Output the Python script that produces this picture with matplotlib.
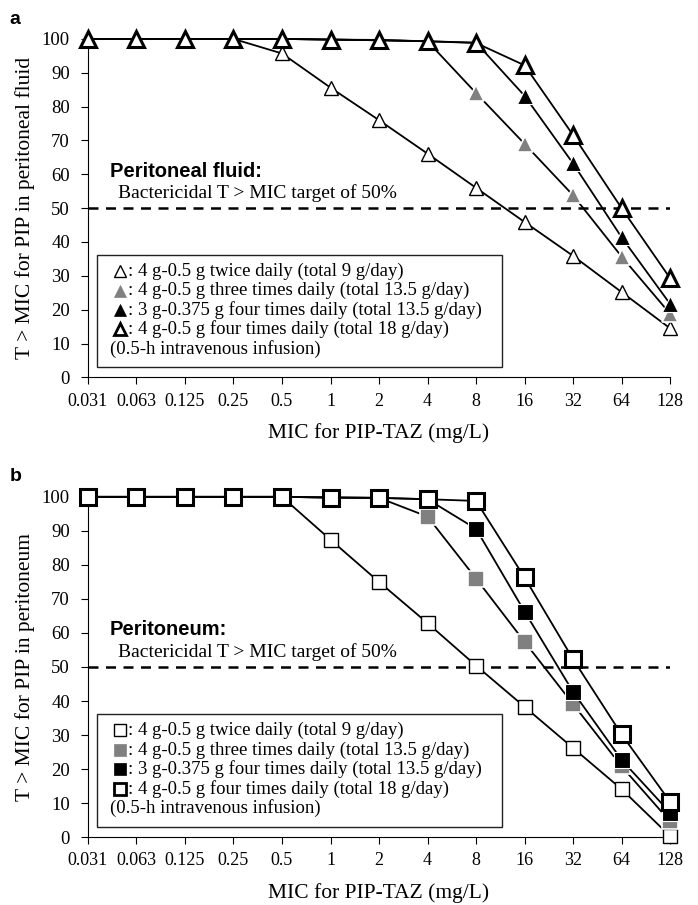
import matplotlib.pyplot as plt
from matplotlib.patches import Rectangle

plt.rcParams['font.family'] = ['Liberation Serif', 'DejaVu Serif']

mic_labels = ["0.031", "0.063", "0.125", "0.25", "0.5", "1", "2", "4",
              "8", "16", "32", "64", "128"]

# panel a: peritoneal fluid
fluid_bid = [100, 100, 100, 100, 95.7, 85.6, 76, 66.1, 56, 45.9, 35.9, 25.2, 14.5]
fluid_tid = [100, 100, 100, 100, 100, 99.8, 99.6, 99.3, 84, 69, 53.8, 35.7, 18.8]
fluid_qid3 = [100, 100, 100, 100, 100, 99.8, 99.6, 99.3, 98.9, 83.2, 63.2, 41.4, 21.7]
fluid_qid4 = [100, 100, 100, 100, 100, 99.8, 99.7, 99.3, 98.8, 92.2, 71.6, 50, 29.3]

# panel b: peritoneum
tissue_bid = [100, 100, 100, 100, 100, 87.4, 75, 62.9, 50.4, 38.3, 26.2, 14.1, 0.3]
tissue_tid = [100, 100, 100, 100, 100, 99.8, 99.7, 94.2, 76, 57.4, 39.1, 20.8, 4.6]
tissue_qid3 = [100, 100, 100, 100, 100, 99.8, 99.7, 99.3, 90.6, 66.3, 42.7, 22.7, 7.2]
tissue_qid4 = [100, 100, 100, 100, 100, 99.8, 99.7, 99.3, 98.8, 76.3, 52.3, 30.2, 10.4]

regimens = [": 4 g-0.5 g twice daily (total 9 g/day)",
            ": 4 g-0.5 g three times daily (total 13.5 g/day)",
            ": 3 g-0.375 g four times daily (total 13.5 g/day)",
            ": 4 g-0.5 g four times daily (total 18 g/day)"]
infusion_note = "(0.5-h intravenous infusion)"
target = 50

# marker styles for the four regimens
styles = [
    dict(mfc="white", mec="black", mew=1.0, ms=10),
    dict(mfc="#808080", mec="white", mew=1.2, ms=11),
    dict(mfc="black", mec="white", mew=0.8, ms=11),
    dict(mfc="white", mec="black", mew=2.2, ms=12),
]
legend_styles = [
    dict(mfc="white", mec="black", mew=1.0, ms=9),
    dict(mfc="#808080", mec="#808080", mew=0.5, ms=9),
    dict(mfc="black", mec="black", mew=0.5, ms=9),
    dict(mfc="white", mec="black", mew=2.0, ms=9),
]


def draw_panel(ax, series, marker, title, ylabel, letter):
    x = list(range(len(mic_labels)))
    for y, st in zip(series, styles):
        ax.plot(x, y, color="black", lw=1.3, marker=marker, clip_on=False,
                zorder=3, **st)
    ax.axhline(target, color="black", lw=1.8, ls=(0, (4, 3)), zorder=1)
    ax.set_xlim(0, len(mic_labels) - 1)
    ax.set_ylim(0, 100)
    ax.set_xticks(x)
    ax.set_xticklabels(mic_labels, fontsize=13)
    ax.set_yticks(range(0, 101, 10))
    ax.tick_params(axis="y", labelsize=13.5, length=5, pad=8)
    ax.tick_params(axis="x", length=5, pad=6)
    ax.spines["top"].set_visible(False)
    ax.spines["right"].set_visible(False)
    ax.set_xlabel("MIC for PIP-TAZ (mg/L)", fontsize=15.5, labelpad=10)
    ax.set_ylabel(ylabel, fontsize=15.5, labelpad=5)

    ax.text(0.038, 0.609, title, transform=ax.transAxes, fontsize=14.5,
            fontweight="bold", family="Liberation Sans", va="center")
    ax.text(0.052, 0.544, "Bactericidal T > MIC target of 50%",
            transform=ax.transAxes, fontsize=14, va="center")

    # legend box
    ax.add_patch(Rectangle((0.016, 0.03), 0.695, 0.332, transform=ax.transAxes,
                           fill=False, lw=1.0, ec="#222222", zorder=4))
    rows = [0.314, 0.256, 0.199, 0.142]
    for yy, label, st in zip(rows, regimens, legend_styles):
        ax.plot([0.055], [yy], marker=marker, transform=ax.transAxes,
                clip_on=False, ls="none", zorder=5, **st)
        ax.text(0.068, yy, label, transform=ax.transAxes, fontsize=13.5,
                va="center")
    ax.text(0.038, 0.085, infusion_note, transform=ax.transAxes, fontsize=13.5,
            va="center")

    ax.figure.text(0.014, ax.get_position().y1 + 0.022, letter, fontsize=14,
                   fontweight="bold", family="Liberation Sans", va="center")


fig = plt.figure(figsize=(6.98, 9.05), dpi=100)
ax_a = fig.add_axes([0.126, 0.583, 0.834, 0.374])
ax_b = fig.add_axes([0.126, 0.075, 0.834, 0.376])

draw_panel(ax_a, [fluid_bid, fluid_tid, fluid_qid3, fluid_qid4], "^",
           "Peritoneal fluid:", "T > MIC for PIP in peritoneal fluid", "a")
draw_panel(ax_b, [tissue_bid, tissue_tid, tissue_qid3, tissue_qid4], "s",
           "Peritoneum:", "T > MIC for PIP in peritoneum", "b")

fig.savefig("out.png", dpi=100)
